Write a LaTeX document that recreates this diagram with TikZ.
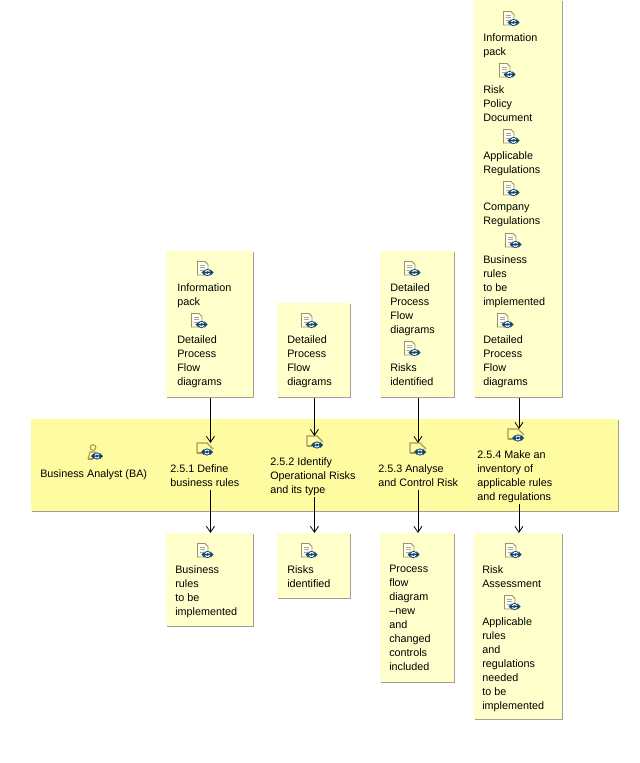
\documentclass[tikz,border=0pt]{standalone}
\usepackage{fontspec}
\setmainfont{Liberation Sans}
\usetikzlibrary{arrows.meta,shadows}
\definecolor{notefill}{RGB}{255,255,204}
\definecolor{bandfill}{RGB}{255,251,160}
\definecolor{edgegray}{RGB}{160,160,150}
\definecolor{icontan}{RGB}{176,150,90}
\definecolor{iconblu}{RGB}{20,70,115}
\tikzset{
	notebox/.style={anchor=north west,inner sep=0pt,fill=notefill,drop shadow={shadow xshift=0.75pt,shadow yshift=-0.75pt,fill=edgegray,opacity=1}},
	bandbox/.style={anchor=north west,inner sep=0pt,fill=bandfill,drop shadow={shadow xshift=0.75pt,shadow yshift=-0.75pt,fill=edgegray,opacity=1}},
	lbl/.style={anchor=north west,inner sep=0pt,align=left,font=\fontsize{8.1}{10.5}\selectfont,execute at begin node=\strut},
	flow/.style={-{Straight Barb[length=4.5pt,width=6pt]},line width=0.6pt},
	turn/.pic={
		\fill [iconblu] (0,0) circle (3.6);
		\fill [iconblu] (-6,0) -- (-2.8,-3.2) -- (-2.8,3.2) -- cycle;
		\fill [iconblu] (6,0) -- (2.8,-3.2) -- (2.8,3.2) -- cycle;
		\draw [white,line width=0.75pt] (-2,0.6) arc (160:30:2.2);
		\draw [white,line width=0.75pt] (2,-0.6) arc (-20:-150:2.2);
	},
	docicon/.pic={
		\draw [icontan!70!gray,fill=notefill!40!white,line width=0.6pt] (-7.5,7.5) -- (0,7.5) -- (3,4.5) -- (3,-6) -- (-7.5,-6) -- cycle;
		\draw [gray!70,line width=0.5pt] (-5.5,4) -- (0,4) (-5.5,1.5) -- (0,1.5) (-5.5,-1) -- (-2,-1);
		\path (2.5,-3.5) pic {turn};
	},
	taskicon/.pic={
		\draw [icontan,line width=0.8pt] (-7,-3) -- (-7,7) -- (3,7) -- (9,1);
		\draw [icontan,line width=0.8pt] (-7,-3) -- (-2,-3);
		\path (3,-2) pic {turn};
	},
	roleicon/.pic={
		\draw [icontan,line width=0.8pt] (-2,4.5) circle (2.8);
		\draw [icontan,line width=0.8pt] (-7,-7) -- (-5,0) -- (1,0);
		\draw [icontan,line width=0.8pt] (-7,-7) -- (-2,-7);
		\path (2,-4) pic {turn};
	},
}

\begin{document}
\begin{tikzpicture}[x=0.75pt,y=0.75pt,yscale=-1,xscale=1]
	\useasboundingbox (0,0) rectangle (639,763);

	%notes and band
	\node (inbox1) [notebox,minimum width=65.25pt,minimum height=109.5pt] at (166,251) {};
	\node (inbox2) [notebox,minimum width=54.75pt,minimum height=70.5pt] at (277,303) {};
	\node (inbox3) [notebox,minimum width=55.5pt,minimum height=109.5pt] at (380,251) {};
	\node (inbox4) [notebox,minimum width=66pt,minimum height=297.75pt] at (474,0) {};
	\node (band) [bandbox,minimum width=440.25pt,minimum height=69pt] at (31,419) {};
	\node (outbox1) [notebox,minimum width=65.25pt,minimum height=69.75pt] at (166,533) {};
	\node (outbox2) [notebox,minimum width=54.75pt,minimum height=48.75pt] at (277,533) {};
	\node (outbox3) [notebox,minimum width=55.5pt,minimum height=111.75pt] at (380,533) {};
	\node (outbox4) [notebox,minimum width=66pt,minimum height=139.5pt] at (474,533) {};

	%icons
	\path (205,269) pic {docicon};
	\path (199,321) pic {docicon};
	\path (309,321) pic {docicon};
	\path (412,269) pic {docicon};
	\path (412,349) pic {docicon};
	\path (511,19) pic {docicon};
	\path (507,71) pic {docicon};
	\path (511,137) pic {docicon};
	\path (511,189) pic {docicon};
	\path (513,241) pic {docicon};
	\path (505,321) pic {docicon};
	\path (205,551) pic {docicon};
	\path (309,551) pic {docicon};
	\path (411,551) pic {docicon};
	\path (513,551) pic {docicon};
	\path (512,603) pic {docicon};
	\path (95,452) pic {roleicon};
	\path (204,450) pic {taskicon};
	\path (314,443) pic {taskicon};
	\path (417,450) pic {taskicon};
	\path (515,436) pic {taskicon};

	%inputs
	\node (infoA) [lbl] at (177,283) {Information\\pack};
	\node (flowA) [lbl] at (177,335) {Detailed\\Process\\Flow\\diagrams};
	\node (flowB) [lbl] at (287,335) {Detailed\\Process\\Flow\\diagrams};
	\node (flowC) [lbl] at (390,283) {Detailed\\Process\\Flow\\diagrams};
	\node (risksC) [lbl] at (390,363) {Risks\\identified};
	\node (infoD) [lbl] at (483,33) {Information\\pack};
	\node (policyD) [lbl] at (483,85) {Risk\\Policy\\Document};
	\node (applD) [lbl] at (483,151) {Applicable\\Regulations};
	\node (compD) [lbl] at (483,203) {Company\\Regulations};
	\node (rulesD) [lbl] at (483,255) {Business\\rules\\to be\\implemented};
	\node (flowD) [lbl] at (483,335) {Detailed\\Process\\Flow\\diagrams};

	%band
	\node (analyst) [lbl] at (40,467) {Business Analyst (BA)};
	\node (task1) [lbl] at (170,464) {2.5.1 Define\\business rules};
	\node (task2) [lbl] at (270,457) {2.5.2 Identify\\Operational Risks\\and its type};
	\node (task3) [lbl] at (378,464) {2.5.3 Analyse\\and Control Risk};
	\node (task4) [lbl] at (477,450) {2.5.4 Make an\\inventory of\\applicable rules\\and regulations};

	%outputs
	\node (rulesO) [lbl] at (175,565) {Business\\rules\\to be\\implemented};
	\node (risksO) [lbl] at (287,565) {Risks\\identified};
	\node (procO) [lbl] at (389,565) {Process\\flow\\diagram\\–new\\and\\changed\\controls\\included};
	\node (riskO) [lbl] at (482,565) {Risk\\Assessment};
	\node (applO) [lbl] at (482,617) {Applicable\\rules\\and\\regulations\\needed\\to be\\implemented};

	%connectors
	\coordinate (in1) at (inbox1.south |- 0,443);
	\coordinate (in2) at (inbox2.south |- 0,436);
	\coordinate (in3) at (inbox3.south |- 0,443);
	\coordinate (in4) at (inbox4.south |- 0,429);
	\coordinate (out1) at (outbox1.north |- 0,490);
	\coordinate (out2) at (outbox2.north |- 0,497);
	\coordinate (out3) at (outbox3.north |- 0,490);
	\coordinate (out4) at (outbox4.north |- 0,504);
	\foreach \n in {1,2,3,4}{
		\draw [flow] ([xshift=0.5pt]inbox\n.south) -- ([xshift=0.5pt]in\n);
		\draw [flow] ([xshift=0.5pt]out\n) -- ([xshift=0.5pt]outbox\n.north);
	}
\end{tikzpicture}
\end{document}
